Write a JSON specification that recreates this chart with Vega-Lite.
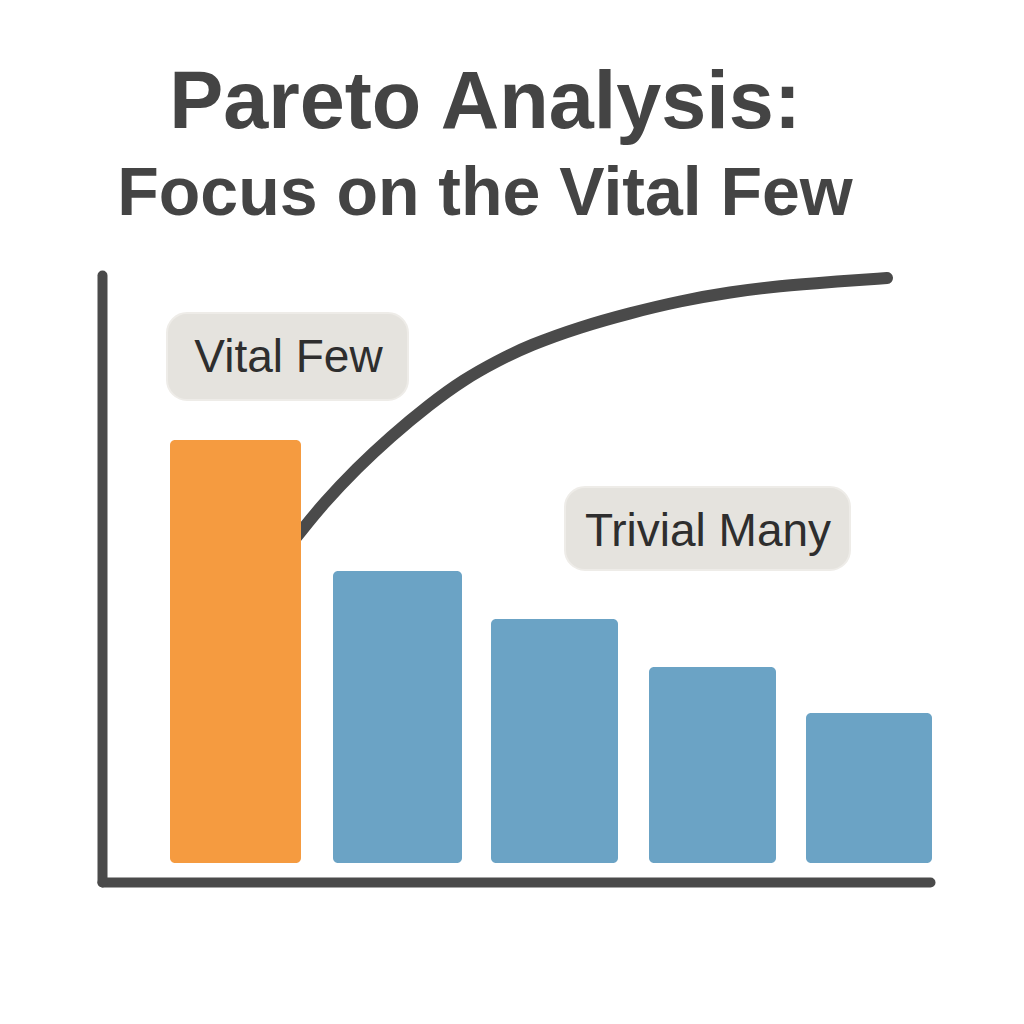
{
  "$schema": "https://vega.github.io/schema/vega-lite/v6.json",
  "width": 828,
  "height": 607,
  "autosize": {"type": "none"},
  "padding": {"left": 102, "top": 275, "right": 94, "bottom": 142},
  "background": "white",
  "title": {
    "text": "Pareto Analysis:",
    "subtitle": "Focus on the Vital Few",
    "font": "Liberation Sans",
    "fontSize": 81,
    "fontWeight": "bold",
    "color": "#444444",
    "subtitleFont": "Liberation Sans",
    "subtitleFontSize": 68,
    "subtitleFontWeight": "bold",
    "subtitleColor": "#444444",
    "subtitlePadding": 16,
    "anchor": "middle",
    "offset": 24,
    "dx": -31
  },
  "datasets": {
    "bars": [
      {"cat": "A", "group": "Vital Few", "x0": 0.68, "x1": 1.99, "value": 42.3},
      {"cat": "B", "group": "Trivial Many", "x0": 2.31, "x1": 3.60, "value": 29.2},
      {"cat": "C", "group": "Trivial Many", "x0": 3.89, "x1": 5.16, "value": 24.4},
      {"cat": "D", "group": "Trivial Many", "x0": 5.47, "x1": 6.74, "value": 19.6},
      {"cat": "E", "group": "Trivial Many", "x0": 7.04, "x1": 8.30, "value": 15.0}
    ],
    "curve": [
      {"x": 1.88, "y": 31.8},
      {"x": 2.00, "y": 33.3},
      {"x": 2.21, "y": 35.9},
      {"x": 2.55, "y": 39.5},
      {"x": 2.88, "y": 42.6},
      {"x": 3.28, "y": 45.9},
      {"x": 3.61, "y": 48.3},
      {"x": 3.95, "y": 50.2},
      {"x": 4.28, "y": 51.8},
      {"x": 4.78, "y": 53.6},
      {"x": 5.28, "y": 55.0},
      {"x": 5.78, "y": 56.2},
      {"x": 6.28, "y": 57.1},
      {"x": 6.78, "y": 57.7},
      {"x": 7.28, "y": 58.1},
      {"x": 7.85, "y": 58.5}
    ],
    "labels": [
      {"label": "Vital Few", "bx0": 0.65, "bx1": 3.06, "by0": 46.3, "by1": 55.0, "tx": 1.865, "ty": 49.1},
      {"label": "Trivial Many", "bx0": 4.63, "bx1": 7.48, "by0": 29.3, "by1": 37.6, "tx": 6.06, "ty": 31.7}
    ]
  },
  "layer": [
    {
      "data": {"name": "labels"},
      "mark": {"type": "rect", "cornerRadius": 20, "fill": "#E5E3DE", "stroke": "#EEECE8", "strokeWidth": 2},
      "encoding": {
        "x": {"field": "bx0", "type": "quantitative", "title": null, "scale": {"domain": [0, 8.28], "nice": false, "zero": false}},
        "x2": {"field": "bx1"},
        "y": {"field": "by0", "type": "quantitative", "title": null, "scale": {"domain": [-1.9, 58.8], "nice": false, "zero": false}},
        "y2": {"field": "by1"}
      }
    },
    {
      "data": {"name": "labels"},
      "mark": {"type": "text", "font": "Liberation Sans", "fontSize": 46, "color": "#2E2E2E", "align": "center", "baseline": "alphabetic"},
      "encoding": {
        "x": {"field": "tx", "type": "quantitative", "title": null},
        "y": {"field": "ty", "type": "quantitative", "title": null},
        "text": {"field": "label"}
      }
    },
    {
      "data": {"name": "curve"},
      "mark": {"type": "line", "interpolate": "basis", "strokeWidth": 12, "strokeCap": "round", "color": "#4A4A4A"},
      "encoding": {
        "x": {"field": "x", "type": "quantitative", "title": null},
        "y": {"field": "y", "type": "quantitative", "title": null}
      }
    },
    {
      "data": {"name": "bars"},
      "mark": {"type": "rect", "cornerRadius": 5},
      "encoding": {
        "x": {"field": "x0", "type": "quantitative", "title": null},
        "x2": {"field": "x1"},
        "y": {"field": "value", "type": "quantitative", "title": null},
        "y2": {"datum": 0},
        "color": {"field": "group", "type": "nominal", "legend": null, "scale": {"domain": ["Vital Few", "Trivial Many"], "range": ["#F59B40", "#6BA3C5"]}}
      }
    }
  ],
  "config": {
    "view": {"stroke": null},
    "axis": {
      "domainColor": "#4A4A4A",
      "domainWidth": 10,
      "domainCap": "round",
      "ticks": false,
      "labels": false,
      "grid": false
    }
  }
}
